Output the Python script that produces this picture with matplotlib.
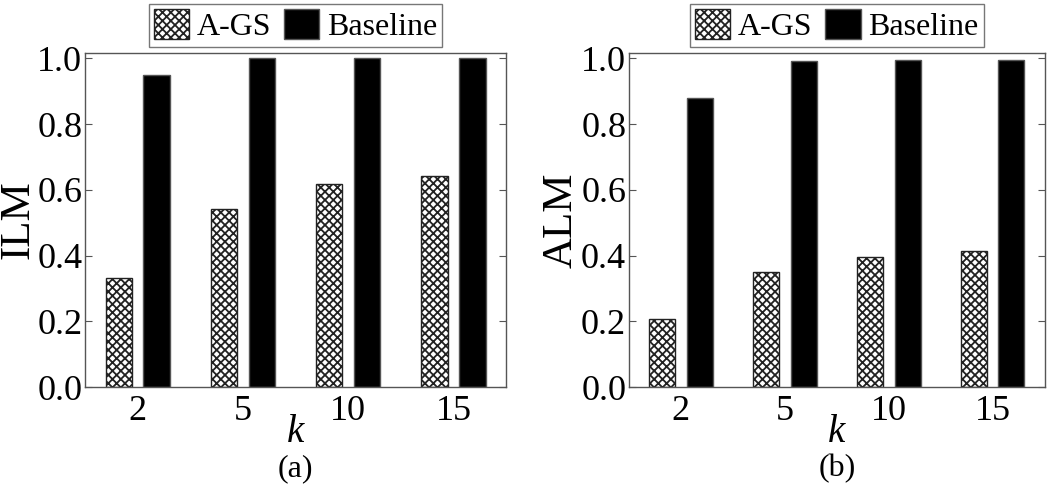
import numpy as np
import matplotlib.pyplot as plt

k_labels = ['2', '5', '10', '15']
ilm_ags = [0.332, 0.543, 0.619, 0.641]
ilm_base = [0.949, 1.0, 1.0, 1.0]
alm_ags = [0.206, 0.351, 0.394, 0.414]
alm_base = [0.88, 0.991, 0.996, 0.995]

plt.rcParams['font.family'] = ['Liberation Serif', 'DejaVu Serif']
plt.rcParams['hatch.linewidth'] = 1.3
plt.rcParams['mathtext.fontset'] = 'custom'
plt.rcParams['mathtext.it'] = 'Liberation Serif:italic'

fig = plt.figure(figsize=(10.5, 4.91), dpi=100)
ax1 = fig.add_axes([0.081, 0.2118, 0.401, 0.6802])
ax2 = fig.add_axes([0.599, 0.2118, 0.396, 0.6802])

x = np.arange(len(k_labels))
w = 0.25
off = 0.18

for ax, ags, base, ylab, sub in [(ax1, ilm_ags, ilm_base, 'ILM', '(a)'),
                                 (ax2, alm_ags, alm_base, 'ALM', '(b)')]:
    ax.bar(x - off, ags, w, color='white', edgecolor='#222222', hatch='xxxx',
           linewidth=1.0, label='A-GS')
    ax.bar(x + off, base, w, color='black', edgecolor='#555555',
           linewidth=1.0, label='Baseline')
    ax.set_xlim(-0.5, 3.5)
    ax.set_ylim(0, 1.016)
    ax.set_xticks(x)
    ax.set_xticklabels(k_labels)
    ax.set_yticks([0.0, 0.2, 0.4, 0.6, 0.8, 1.0])
    ax.set_yticklabels(['0.0', '0.2', '0.4', '0.6', '0.8', '1.0'])
    ax.tick_params(axis='y', direction='in', right=True, length=5,
                   color='#555555', labelsize=26, pad=2)
    ax.tick_params(axis='x', length=0, labelsize=26, pad=6)
    for s in ax.spines.values():
        s.set_color('#555555')
        s.set_linewidth(1.0)
    ax.set_ylabel(ylab, fontsize=31, labelpad=0)
    ax.set_xlabel('$k$', fontsize=28, labelpad=-10)
    leg = ax.legend(loc='lower center', bbox_to_anchor=(0.5, 1.0), ncol=2,
                    fontsize=23, frameon=True, fancybox=False,
                    handlelength=1.1, handleheight=1.1, handletextpad=0.25,
                    columnspacing=0.4, borderpad=0.15, borderaxespad=0.2)
    leg.get_frame().set_edgecolor('#555555')
    leg.get_frame().set_linewidth(1.0)
    pos = ax.get_position()
    fig.text((pos.x0 + pos.x1) / 2, 1 - 469 / 491, sub, ha='center',
             va='center', fontsize=23)

fig.savefig('out.png', dpi=100)
